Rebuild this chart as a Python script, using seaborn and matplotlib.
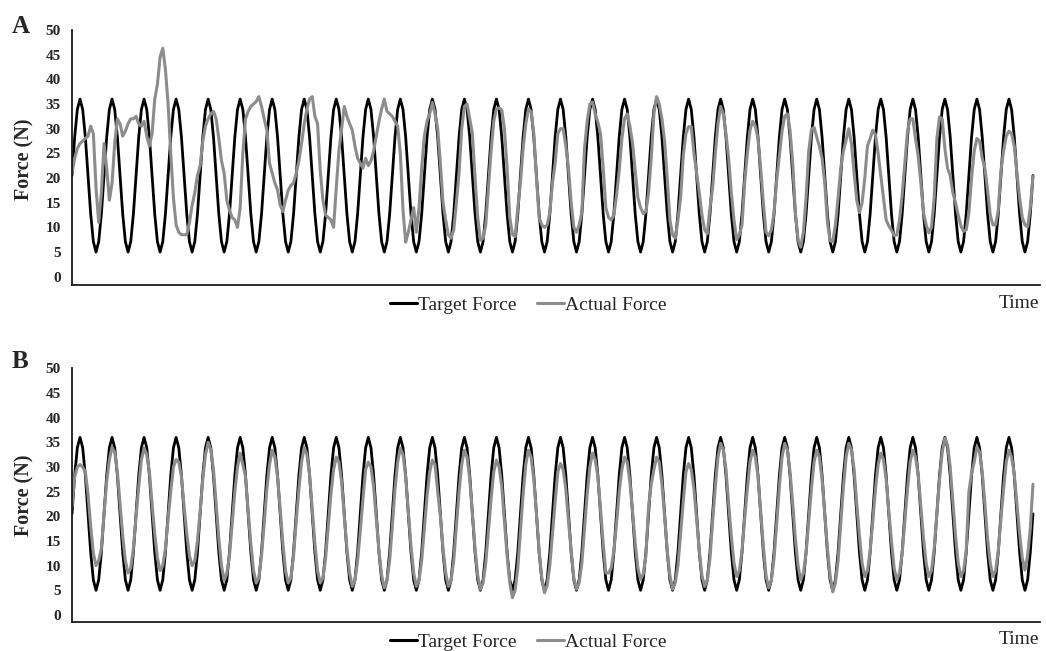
import numpy as np
import pandas as pd
import matplotlib
matplotlib.use("Agg")
import matplotlib.pyplot as plt
from matplotlib.lines import Line2D
import seaborn as sns

# readings taken every 1/12 of a target cycle, one row per cycle (30 cycles + closing point)
samples_per_cycle = 12

target_force = [
    20.5, 28.3, 33.9, 36.0, 33.9, 28.3, 20.5, 12.7, 7.1, 5.0, 7.1, 12.7,
    20.5, 28.3, 33.9, 36.0, 33.9, 28.3, 20.5, 12.7, 7.1, 5.0, 7.1, 12.7,
    20.5, 28.3, 33.9, 36.0, 33.9, 28.3, 20.5, 12.7, 7.1, 5.0, 7.1, 12.7,
    20.5, 28.3, 33.9, 36.0, 33.9, 28.3, 20.5, 12.7, 7.1, 5.0, 7.1, 12.7,
    20.5, 28.3, 33.9, 36.0, 33.9, 28.3, 20.5, 12.7, 7.1, 5.0, 7.1, 12.7,
    20.5, 28.3, 33.9, 36.0, 33.9, 28.3, 20.5, 12.7, 7.1, 5.0, 7.1, 12.7,
    20.5, 28.3, 33.9, 36.0, 33.9, 28.3, 20.5, 12.7, 7.1, 5.0, 7.1, 12.7,
    20.5, 28.3, 33.9, 36.0, 33.9, 28.3, 20.5, 12.7, 7.1, 5.0, 7.1, 12.7,
    20.5, 28.3, 33.9, 36.0, 33.9, 28.3, 20.5, 12.7, 7.1, 5.0, 7.1, 12.7,
    20.5, 28.3, 33.9, 36.0, 33.9, 28.3, 20.5, 12.7, 7.1, 5.0, 7.1, 12.7,
    20.5, 28.3, 33.9, 36.0, 33.9, 28.3, 20.5, 12.7, 7.1, 5.0, 7.1, 12.7,
    20.5, 28.3, 33.9, 36.0, 33.9, 28.3, 20.5, 12.7, 7.1, 5.0, 7.1, 12.7,
    20.5, 28.3, 33.9, 36.0, 33.9, 28.3, 20.5, 12.7, 7.1, 5.0, 7.1, 12.7,
    20.5, 28.3, 33.9, 36.0, 33.9, 28.3, 20.5, 12.7, 7.1, 5.0, 7.1, 12.7,
    20.5, 28.3, 33.9, 36.0, 33.9, 28.3, 20.5, 12.7, 7.1, 5.0, 7.1, 12.7,
    20.5, 28.3, 33.9, 36.0, 33.9, 28.3, 20.5, 12.7, 7.1, 5.0, 7.1, 12.7,
    20.5, 28.3, 33.9, 36.0, 33.9, 28.3, 20.5, 12.7, 7.1, 5.0, 7.1, 12.7,
    20.5, 28.3, 33.9, 36.0, 33.9, 28.3, 20.5, 12.7, 7.1, 5.0, 7.1, 12.7,
    20.5, 28.3, 33.9, 36.0, 33.9, 28.3, 20.5, 12.7, 7.1, 5.0, 7.1, 12.7,
    20.5, 28.3, 33.9, 36.0, 33.9, 28.3, 20.5, 12.7, 7.1, 5.0, 7.1, 12.7,
    20.5, 28.3, 33.9, 36.0, 33.9, 28.3, 20.5, 12.7, 7.1, 5.0, 7.1, 12.7,
    20.5, 28.3, 33.9, 36.0, 33.9, 28.3, 20.5, 12.7, 7.1, 5.0, 7.1, 12.7,
    20.5, 28.3, 33.9, 36.0, 33.9, 28.3, 20.5, 12.7, 7.1, 5.0, 7.1, 12.7,
    20.5, 28.3, 33.9, 36.0, 33.9, 28.3, 20.5, 12.7, 7.1, 5.0, 7.1, 12.7,
    20.5, 28.3, 33.9, 36.0, 33.9, 28.3, 20.5, 12.7, 7.1, 5.0, 7.1, 12.7,
    20.5, 28.3, 33.9, 36.0, 33.9, 28.3, 20.5, 12.7, 7.1, 5.0, 7.1, 12.7,
    20.5, 28.3, 33.9, 36.0, 33.9, 28.3, 20.5, 12.7, 7.1, 5.0, 7.1, 12.7,
    20.5, 28.3, 33.9, 36.0, 33.9, 28.3, 20.5, 12.7, 7.1, 5.0, 7.1, 12.7,
    20.5, 28.3, 33.9, 36.0, 33.9, 28.3, 20.5, 12.7, 7.1, 5.0, 7.1, 12.7,
    20.5, 28.3, 33.9, 36.0, 33.9, 28.3, 20.5, 12.7, 7.1, 5.0, 7.1, 12.7,
    20.5,
]

actual_force_a = [
    21, 24, 26, 27, 27.5, 28, 28.5, 30.5, 29, 18, 11, 17,
    27, 22, 15.5, 19, 27, 32, 31, 28.5, 29.5, 31, 32, 32,
    32.5, 31, 30.5, 31.5, 28.5, 26.5, 29, 36, 39, 44.5, 46.3, 42,
    35, 25, 16, 10.5, 9, 8.5, 8.5, 8.5, 11, 14.5, 17, 20.5,
    22.5, 27.5, 30.5, 32, 33, 33.5, 32, 28, 23.5, 21, 15.5, 13.5,
    12, 11.5, 10, 14, 25, 32, 33.5, 34.5, 35, 35.5, 36.5, 34.5,
    32, 29.7, 23, 21, 19, 17.6, 14.5, 13.2, 15.5, 17.5, 18.5, 19,
    21, 23.5, 27, 31, 34, 36, 36.5, 32.5, 31, 21.5, 15.5, 12.5,
    12, 11.5, 10, 18, 25.5, 30, 34.5, 32.5, 31, 29.7, 26.5, 24,
    23, 22, 24, 22.5, 23.5, 25.5, 28.5, 31.5, 34, 36, 33.5, 33,
    32.5, 31.5, 30.5, 25, 13.5, 7, 9, 11.5, 14, 9, 14, 22,
    28.5, 31.5, 33, 35.3, 33, 30, 23, 15, 11.5, 8.5, 7.8, 9.5,
    15, 21, 30, 34.5, 35, 32, 29, 20, 12, 7.4, 7.8, 10.5,
    18, 25.5, 31.5, 34, 34.2, 33.8, 30, 22, 12, 8.6, 8.1, 14,
    19, 26, 31, 34, 33.5, 29, 20, 12, 10.5, 10, 10.5, 13,
    19, 23, 29, 30, 30, 26.5, 22, 15, 10, 9, 10.5, 13,
    26, 31.5, 35, 35.4, 33, 31.3, 29, 22, 14, 12, 11.5, 12.5,
    16.5, 21.5, 28, 32, 33, 30.5, 27, 21.5, 16, 14, 12.8, 13.2,
    17, 24, 33, 36.5, 35, 32, 27.5, 20, 11.5, 8.5, 7.8, 11.5,
    16, 24.5, 29, 30.4, 30.4, 25, 21, 17, 12.5, 9.5, 8.7, 14,
    18, 25, 31, 34.5, 33, 29, 24, 17, 11.5, 7.5, 8.5, 10.5,
    19, 25, 29.7, 31.5, 30.5, 28, 22, 15, 9, 8.3, 9.5, 13,
    19.5, 24.5, 29.5, 32.5, 33, 29.7, 23, 13, 7.5, 6, 9, 16,
    25.5, 29.8, 30.3, 28.3, 26.4, 24, 19, 11, 7.3, 7.1, 10.5, 16,
    22, 25.5, 27.7, 30, 27, 21, 15.5, 13, 15, 20, 26.5, 28,
    29.7, 28.8, 25, 20.5, 16, 11.5, 10.3, 9.4, 8.3, 8.5, 11.5, 16.5,
    23, 29.5, 32, 32, 28, 24.5, 19, 13, 10.5, 8.9, 10, 16,
    28, 32.4, 32, 26, 22, 20.5, 17, 15, 12.5, 10.3, 9.2, 9.5,
    13, 20, 25.5, 28, 27.5, 24, 22, 17.5, 12.5, 10.5, 10.5, 13.5,
    21.5, 25.5, 28.5, 29.5, 29, 26.5, 21, 16, 12, 10.5, 10.1, 14,
    20.3,
]

actual_force_b = [
    22, 28, 30, 30.5, 30, 29, 24.5, 18, 12.5, 10, 11, 13.5,
    20.5, 27, 31.5, 34, 33, 29, 22.5, 16, 11, 8.5, 9.5, 13.5,
    20, 26, 31.5, 33.8, 32.5, 29, 22.5, 16.5, 11.5, 9, 10, 13.5,
    19.5, 25, 30, 31.5, 31, 28, 22, 16.5, 12, 10, 11, 15,
    21, 27.5, 32.5, 35, 33.5, 29.5, 22.5, 15.5, 10, 7, 8.5, 12,
    18.5, 25, 30, 32.8, 30.5, 28, 21, 14.5, 9, 6.5, 7.5, 12,
    18.5, 25.5, 30.5, 33.4, 32, 28, 21.5, 14.5, 9, 6.5, 7.5, 12,
    19, 25.5, 31, 34, 32.5, 28.5, 21.5, 14.5, 9, 6.5, 7.5, 11.5,
    18, 24.5, 29.5, 32, 31, 27, 20, 13.5, 8.5, 5.8, 7, 11,
    17, 23.5, 29.5, 31, 30, 26, 19.5, 13, 8, 5.5, 7, 11,
    18, 25.5, 31, 33.8, 32.5, 28, 21, 14, 8.5, 5.8, 7, 11,
    17.5, 24, 29, 31.4, 30.5, 25, 20, 13.5, 8.5, 5.8, 7, 11,
    18, 25, 30.5, 33.4, 32, 27.5, 20.5, 13.5, 8, 5.2, 6.5, 10.5,
    17, 23.5, 29, 31.4, 30, 26, 19, 12, 6.5, 3.5, 5, 9.5,
    17, 24.5, 30.5, 33.4, 32, 27.5, 20.5, 13, 7.5, 4.5, 6, 10,
    16.5, 23, 29, 30.7, 29.5, 25.5, 19, 13, 7.5, 5.2, 6.5, 10.5,
    17.5, 24.5, 30, 32.8, 31.5, 28, 21.5, 14.5, 8.5, 8.5, 9.5, 13,
    18.5, 25, 29.5, 32, 31, 27, 21, 14.5, 9.5, 7.2, 8.3, 12,
    22, 26.5, 29.5, 32, 31, 26.5, 20, 13, 8, 5.2, 6.5, 10,
    16.5, 23, 29, 30.7, 29.5, 25.5, 19.5, 13, 8, 5.8, 7, 11.5,
    19, 26, 32, 34.8, 33.5, 29.5, 22.5, 16, 10.5, 7.8, 9, 13,
    19.5, 25.5, 31, 33.4, 32, 28, 21, 14, 8, 5.5, 7, 11.5,
    18.5, 26, 32, 34.8, 33.5, 29, 22.5, 15.5, 10, 7.1, 8.5, 12.5,
    19, 25.5, 31, 33.4, 32, 27.5, 20.5, 13.5, 8, 4.7, 6.5, 11,
    18.5, 26, 32, 34.8, 33.5, 29.5, 22.5, 16, 10.5, 7.8, 9, 13,
    19, 25.5, 30.5, 32.8, 31.5, 27.5, 21, 15, 9.5, 7.1, 8.5, 12.5,
    19, 25.5, 31, 33.4, 32, 28.5, 22, 15.5, 10.5, 7.8, 9, 13.5,
    20.5, 27.5, 33, 35.8, 34.5, 30, 23, 16, 10.5, 7.8, 9, 13,
    25, 28.7, 31, 34.1, 33, 29, 22.5, 15.5, 10.5, 7.8, 9, 13,
    19.5, 25.5, 31, 33.4, 32, 28.5, 22.5, 16.5, 11.5, 9.1, 12, 17.5,
    26.5,
]

series_names = ["Target Force", "Actual Force"]
series_colors = ["#000000", "#8c8c8c"]
series_widths = [2.0, 2.2]
panel_labels = ["A", "B"]
y_ticks = [0, 5, 10, 15, 20, 25, 30, 35, 40, 45, 50]
y_label = "Force (N)"
x_label = "Time"

W, H = 1046, 651


def px(x, y):
    return x / W, 1 - y / H


sns.set_theme(style="white")
plt.rcParams["font.family"] = ["Liberation Serif", "DejaVu Serif"]

fig = plt.figure(figsize=(W / 100, H / 100), dpi=100)

# axes boxes (left, bottom, width, height) and y limits per panel
boxes = [(72 / W, 1 - 285 / H, 968 / W, 255 / H),
         (72 / W, 1 - 621.7 / H, 968 / W, 253.4 / H)]
ylims = [(-1.68, 50), (-1.36, 50)]
spine_y = [285, 621.7]

for i, actual in enumerate([actual_force_a, actual_force_b]):
    ax = fig.add_axes(boxes[i])
    t = np.arange(len(target_force)) / samples_per_cycle
    df = pd.concat([
        pd.DataFrame({"time": t, "force": target_force, "series": series_names[0]}),
        pd.DataFrame({"time": t, "force": actual, "series": series_names[1]}),
    ])
    for name, col, lw in zip(series_names, series_colors, series_widths):
        sns.lineplot(data=df[df["series"] == name], x="time", y="force",
                     color=col, linewidth=lw, ax=ax, estimator=None, sort=False)

    ax.set_xlim(0, 30.22)
    ax.set_ylim(*ylims[i])
    ax.set_xticks([])
    ax.set_xlabel("")
    ax.set_ylabel("")
    ax.set_yticks(y_ticks)
    ax.set_yticklabels([str(v) for v in y_ticks], fontweight="bold", fontsize=11)
    ax.tick_params(axis="y", which="major", length=0, pad=7.9)
    ax.set_yticks([50], minor=True)
    ax.tick_params(axis="y", which="minor", left=True, length=5, width=1.2, color="#1a1a1a")
    for s in ["top", "right"]:
        ax.spines[s].set_visible(False)
    for s in ["left", "bottom"]:
        ax.spines[s].set_linewidth(1.3)
        ax.spines[s].set_color("#1a1a1a")

    off = spine_y[i] - 285
    fig.text(*px(12, 33 + off - (2 if i else 0)), panel_labels[i], fontsize=18,
             fontweight="bold", ha="left", va="baseline")
    fig.text(*px(24, 159 + off), y_label, fontsize=14.5, fontweight="bold",
             rotation=90, ha="center", va="center")
    fig.text(*px(1039, 307.5 + off), x_label, fontsize=14, ha="right", va="baseline")

    handles = [Line2D([], [], color=c, lw=2.2) for c in series_colors]
    fig.legend(handles, series_names, loc="center", bbox_to_anchor=px(528.5, 305 + off),
               ncol=2, frameon=False, fontsize=14, handlelength=1.4,
               handletextpad=0.05, columnspacing=1.05, borderpad=0, borderaxespad=0)

fig.savefig("out.png", dpi=100)
